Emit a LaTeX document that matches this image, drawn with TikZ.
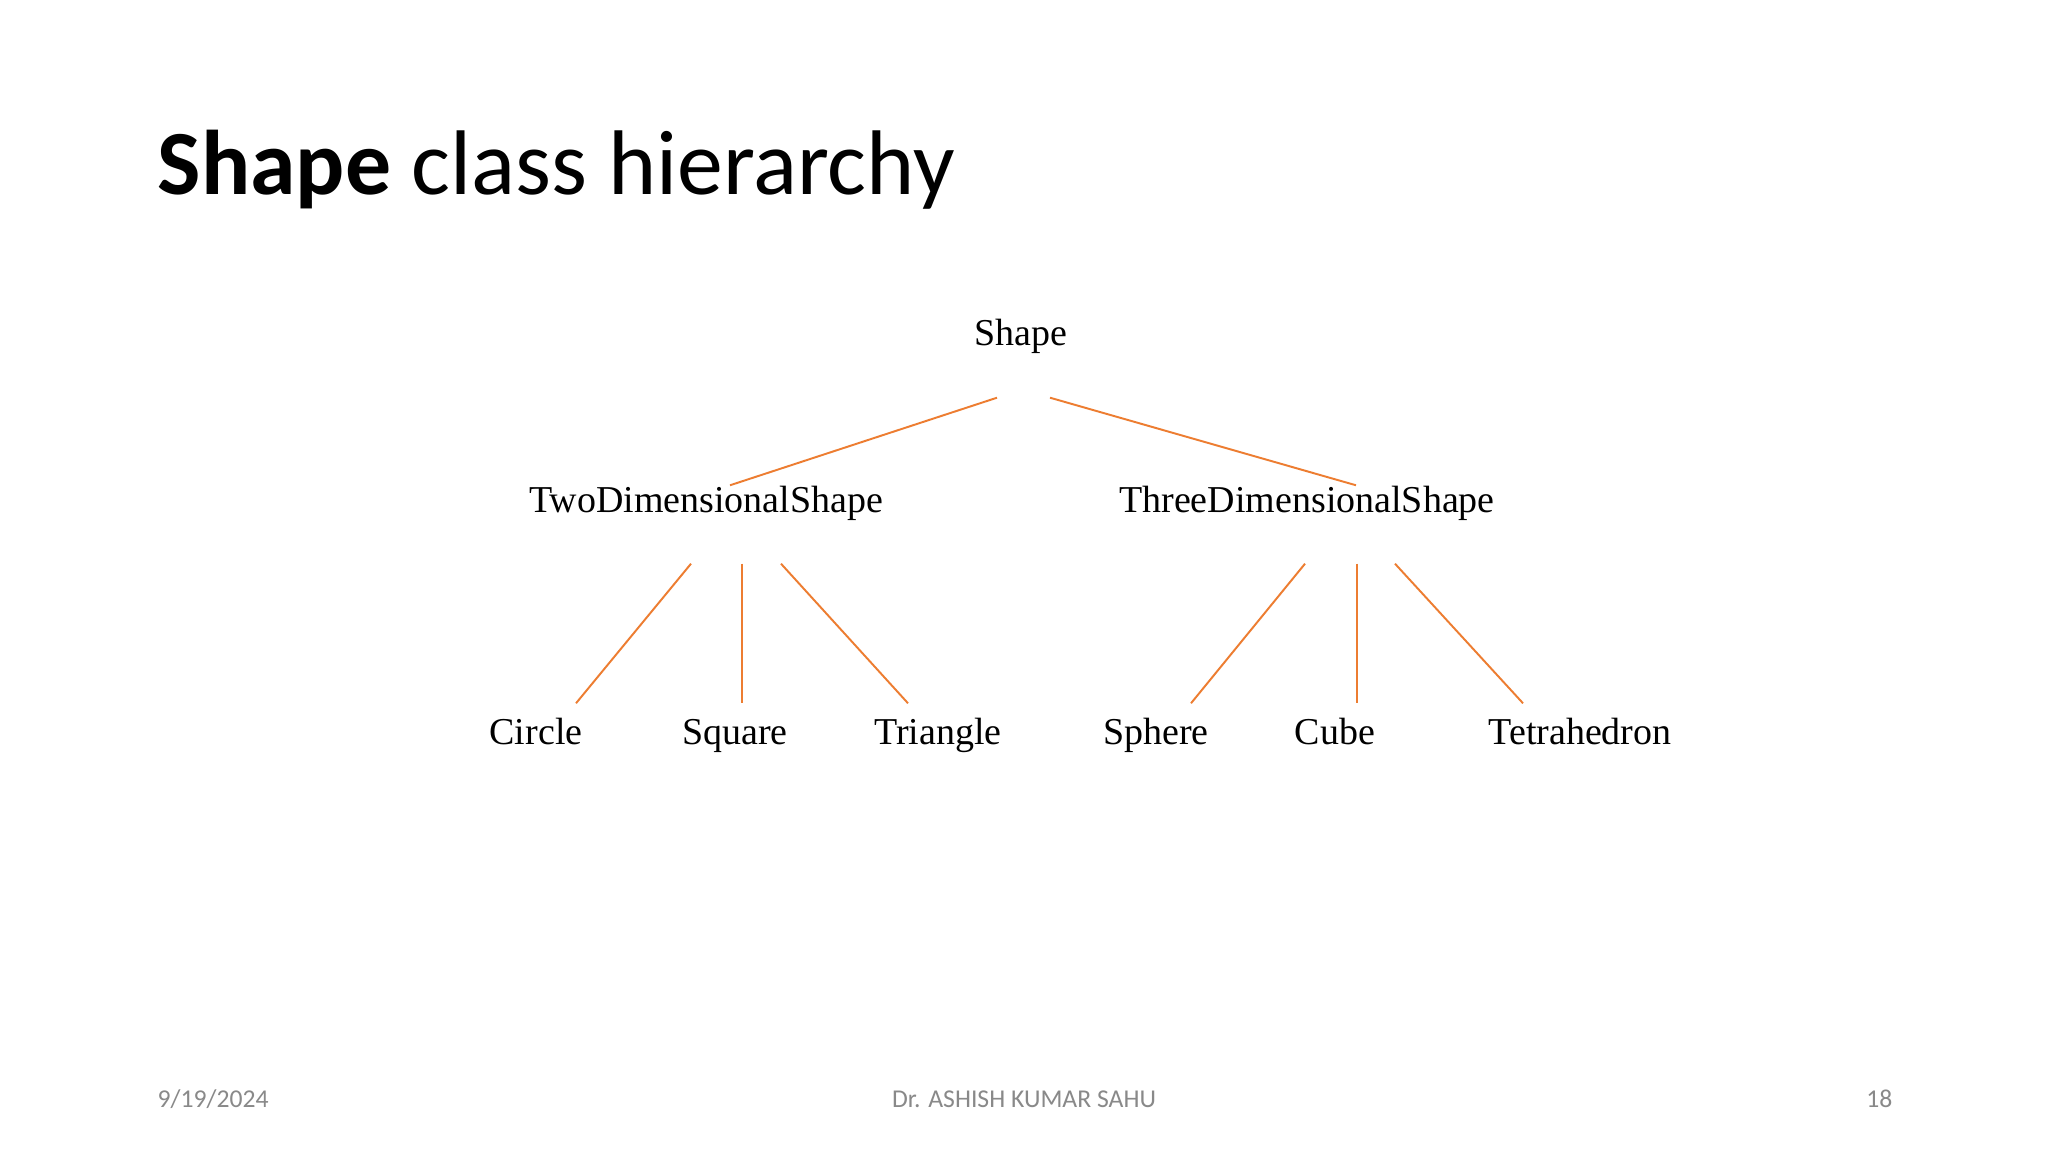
\documentclass[tikz,border=0pt]{standalone}
\usepackage{fontspec}
\setmainfont{Liberation Serif}
\newfontfamily\slidefont{Carlito}
\usepackage{tikz}

\definecolor{linkorange}{HTML}{ED7D31}
\definecolor{footgray}{HTML}{898989}

\tikzset{
    cls/.style={anchor=base,inner sep=0pt,text height=0.26cm,text depth=0.08cm,font=\fontsize{10.8pt}{13pt}\selectfont},
    link/.style={draw=linkorange,line width=0.55pt},
    foot/.style={anchor=base,inner sep=0pt,text=footgray,font=\slidefont\fontsize{7.3pt}{9pt}\selectfont}
}

\begin{document}
\begin{tikzpicture}[x=0.01cm,y=-0.01cm]
            \useasboundingbox (0,0) rectangle (2048,1152);
            \fill[white] (0,0) rectangle (2048,1152);

            \node[anchor=base west,inner sep=0pt,font=\slidefont\fontsize{26.1pt}{30pt}\selectfont] (title) at (157,195) {\textbf{Shape} class hierarchy};

            % Shape
            \node[cls] (shape) at (1021,346) {Shape};

            % two- and three-dimensional
            \node[cls] (two) at (706,513) {TwoDimensionalShape};
            \node[cls] (three) at (1307,513) {ThreeDimensionalShape};
            \draw[link] ([shift={(-24,43)}]shape.south) -- ([shift={(24,-1)}]two.north);
            \draw[link] ([shift={(29,43)}]shape.south) -- ([shift={(49,-1)}]three.north);

            % TwoDimensionalShape
            \node[cls] (circle) at (536,744) {Circle};
            \node[cls] (square) at (735,744) {Square};
            \node[cls] (triangle) at (938,744) {Triangle};
            \draw[link] ([shift={(-15,42)}]two.south) -- ([shift={(40,-14)}]circle.north);
            \draw[link] ([shift={(36,42)}]two.south) -- ([shift={(7,-14)}]square.north);
            \draw[link] ([shift={(75,42)}]two.south) -- ([shift={(-30,-14)}]triangle.north);

            % ThreeDimensionalShape
            \node[cls] (sphere) at (1156,744) {Sphere};
            \node[cls] (cube) at (1335,744) {Cube};
            \node[cls] (tetra) at (1580,744) {Tetrahedron};
            \draw[link] ([shift={(-2,42)}]three.south) -- ([shift={(35,-14)}]sphere.north);
            \draw[link] ([shift={(50,42)}]three.south) -- ([shift={(22,-14)}]cube.north);
            \draw[link] ([shift={(88,42)}]three.south) -- ([shift={(-57,-14)}]tetra.north);

            % footer
            \node[foot,anchor=base west] (date) at (157,1107) {9/19/2024};
            \node[foot] (author) at (1024,1107) {Dr. ASHISH KUMAR SAHU};
            \node[foot,anchor=base east] (page) at (1893,1107) {18};
\end{tikzpicture}
\end{document}
